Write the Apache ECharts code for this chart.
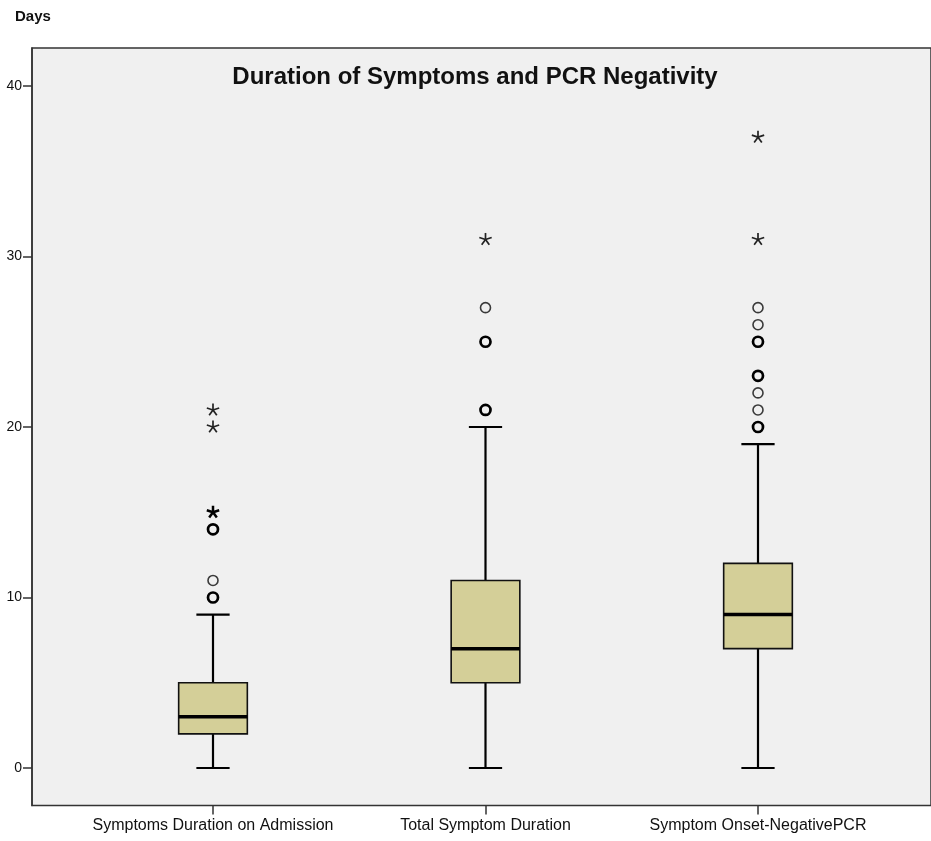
<!DOCTYPE html>
<html>
<head>
<meta charset="utf-8">
<script src="https://cdn.jsdelivr.net/npm/echarts@6/dist/echarts.min.js"></script>
<style>html,body{margin:0;padding:0;background:#fff;}#c{width:931px;height:841px;}</style>
</head>
<body>
<div id="c"></div>
<script>
// ---- data ----
const categories = ['Symptoms Duration on Admission', 'Total Symptom Duration', 'Symptom Onset-NegativePCR'];
const whiskerLow = [0, 0, 0];
const quartile1 = [2, 5, 7];
const medians = [3, 7, 9];
const quartile3 = [5, 11, 12];
const whiskerHigh = [9, 20, 19];
// outliers: [categoryIndex, value]
const circleSingle = [[0, 11], [1, 27], [2, 21], [2, 22], [2, 26], [2, 27]];
const circleMultiple = [[0, 10], [0, 14], [1, 21], [1, 25], [2, 20], [2, 23], [2, 25]];
const starSingle = [[0, 20], [0, 21], [1, 31], [2, 31], [2, 37]];
const starMultiple = [[0, 15]];
const yTicks = [0, 10, 20, 30, 40];

const boxData = categories.map((c, i) => [i, whiskerLow[i], quartile1[i], medians[i], quartile3[i], whiskerHigh[i]]);
const outlierData = []
  .concat(circleSingle.map(d => [d[0], d[1], 0, 0]))
  .concat(circleMultiple.map(d => [d[0], d[1], 0, 1]))
  .concat(starSingle.map(d => [d[0], d[1], 1, 0]))
  .concat(starMultiple.map(d => [d[0], d[1], 1, 1]));

const Y_MIN = -2.2, Y_MAX = 42.23;

function renderBox(params, api) {
  const i = api.value(0);
  const band = api.size([1, 0])[0];
  const x = api.coord([i, 0])[0];
  const yLow = api.coord([i, api.value(1)])[1];
  const yQ1 = api.coord([i, api.value(2)])[1];
  const yMed = api.coord([i, api.value(3)])[1];
  const yQ3 = api.coord([i, api.value(4)])[1];
  const yHigh = api.coord([i, api.value(5)])[1];
  const hw = band * 0.126;
  const cw = band * 0.061;
  const ls = { stroke: '#000', lineWidth: 2.2 };
  return {
    type: 'group',
    children: [
      { type: 'line', shape: { x1: x, y1: yQ3, x2: x, y2: yHigh }, style: ls },
      { type: 'line', shape: { x1: x, y1: yQ1, x2: x, y2: yLow }, style: ls },
      { type: 'line', shape: { x1: x - cw, y1: yHigh, x2: x + cw, y2: yHigh }, style: ls },
      { type: 'line', shape: { x1: x - cw, y1: yLow, x2: x + cw, y2: yLow }, style: ls },
      { type: 'rect', shape: { x: x - hw, y: yQ3, width: hw * 2, height: yQ1 - yQ3 },
        style: { fill: '#d4cf98', stroke: '#111', lineWidth: 1.6 } },
      { type: 'line', shape: { x1: x - hw, y1: yMed, x2: x + hw, y2: yMed },
        style: { stroke: '#000', lineWidth: 3.5 } }
    ]
  };
}

function renderOutlier(params, api) {
  const i = api.value(0);
  const p = api.coord([i, api.value(1)]);
  const isStar = api.value(2) === 1;
  const multi = api.value(3) === 1;
  if (!isStar) {
    return {
      type: 'circle',
      shape: { cx: p[0], cy: p[1], r: 5 },
      style: { fill: 'none', stroke: multi ? '#000' : '#3a3a3a', lineWidth: multi ? 2.7 : 1.6 }
    };
  }
  const r = 6.5;
  const children = [];
  for (let k = 0; k < 5; k++) {
    const a = -Math.PI / 2 + k * 2 * Math.PI / 5;
    children.push({
      type: 'line',
      shape: { x1: p[0], y1: p[1], x2: p[0] + r * Math.cos(a), y2: p[1] + r * Math.sin(a) },
      style: { stroke: multi ? '#000' : '#222', lineWidth: multi ? 2.5 : 1.7 }
    });
  }
  return { type: 'group', children: children };
}

const chart = echarts.init(document.getElementById('c'), null, { renderer: 'canvas' });
chart.setOption({
  animation: false,
  backgroundColor: '#ffffff',
  title: [
    { text: 'Duration of Symptoms and PCR Negativity', left: 470, top: 60, textAlign: 'center',
      textStyle: { fontFamily: 'Liberation Sans, Arial, sans-serif', fontWeight: 'bold', fontSize: 24, color: '#111' } },
    { text: 'Days', left: 10, top: 4,
      textStyle: { fontFamily: 'Liberation Sans, Arial, sans-serif', fontWeight: 'bold', fontSize: 15, color: '#111' } }
  ],
  grid: [
    { left: 32, right: -3, top: 48, bottom: 35.5, show: true, backgroundColor: '#f0f0f0',
      borderColor: '#333', borderWidth: 1.5 },
    { left: 76.75, width: 817.5, top: 48, bottom: 35.5, show: false }
  ],
  xAxis: [
    { type: 'value', gridIndex: 0, show: false, min: 0, max: 1 },
    { type: 'category', gridIndex: 1, data: categories, boundaryGap: true, position: 'bottom',
      axisLine: { show: false, onZero: false },
      axisTick: { show: true, alignWithLabel: true, length: 9, lineStyle: { color: '#333', width: 1.5 } },
      axisLabel: { interval: 0, margin: 12, fontSize: 16, color: '#111', fontFamily: 'Liberation Sans, Arial, sans-serif' },
      splitLine: { show: false } }
  ],
  yAxis: [
    { type: 'value', gridIndex: 0, min: Y_MIN, max: Y_MAX, splitNumber: 5,
      axisLine: { show: true, onZero: false, lineStyle: { color: '#333', width: 1.5 } },
      axisTick: { show: true, length: 9, lineStyle: { color: '#333', width: 1.5 },
        customValues: yTicks },
      axisLabel: { margin: 10, fontSize: 14, color: '#111', fontFamily: 'Liberation Sans, Arial, sans-serif',
        customValues: yTicks,
        formatter: v => (yTicks.indexOf(v) >= 0 ? String(v) : '') },
      splitLine: { show: false } },
    { type: 'value', gridIndex: 1, min: Y_MIN, max: Y_MAX, show: false, splitLine: { show: false } }
  ],
  series: [
    { type: 'custom', xAxisIndex: 1, yAxisIndex: 1, data: boxData, renderItem: renderBox, clip: false },
    { type: 'custom', xAxisIndex: 1, yAxisIndex: 1, data: outlierData, renderItem: renderOutlier, clip: false }
  ]
});
</script>
</body>
</html>
